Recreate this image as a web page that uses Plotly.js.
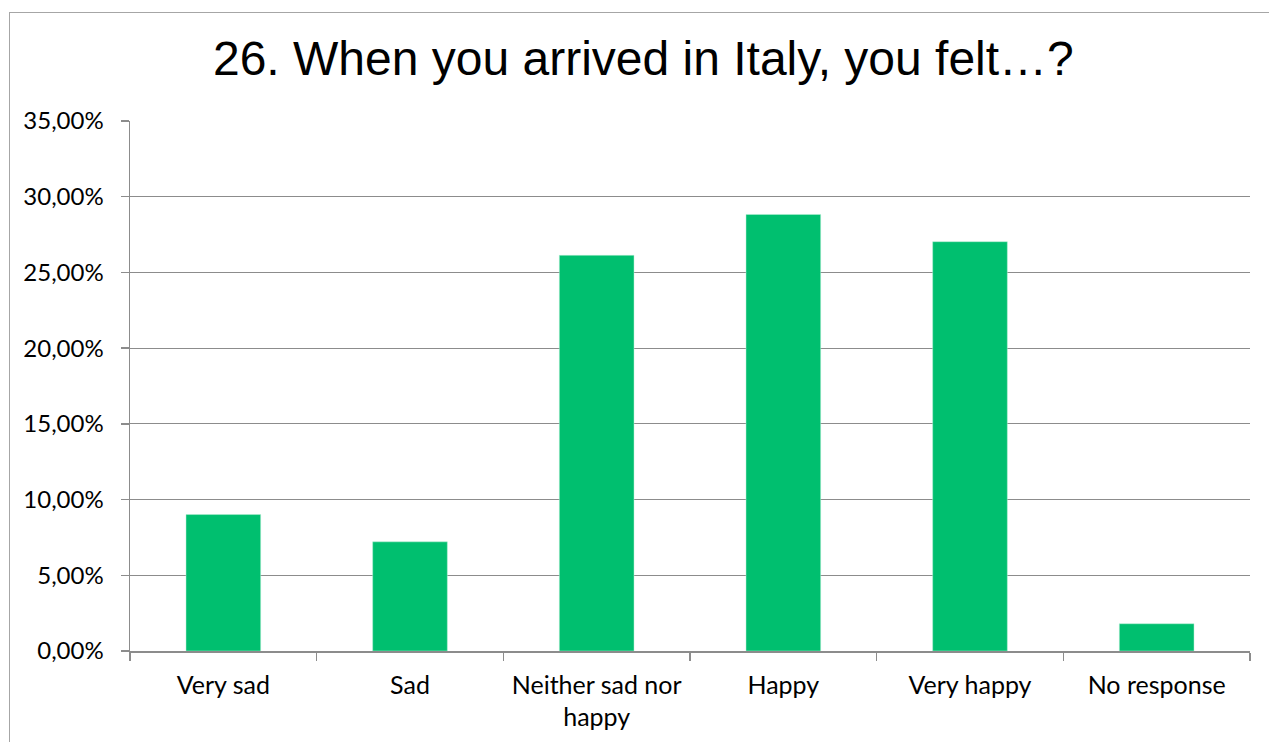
<!DOCTYPE html>
<html>
<head>
<meta charset="utf-8">
<script src="https://cdn.plot.ly/plotly-3.0.1.min.js"></script>
<style>
html,body{margin:0;padding:0;background:#fff;overflow:hidden;}
#chart{position:absolute;left:0;top:0;width:1269px;height:742px;}
#frame{position:absolute;left:9px;top:12px;width:1300px;height:800px;border:1.5px solid #a6a6a6;pointer-events:none;box-sizing:border-box;}
</style>
</head>
<body>
<div id="chart"></div>
<div id="frame"></div>
<script>
const categories = ["Very sad", "Sad", "Neither sad nor<br>happy", "Happy", "Very happy", "No response"];
const shares = [0.0901, 0.0721, 0.2613, 0.2883, 0.2703, 0.0180];
const yTicks = [0, 0.05, 0.10, 0.15, 0.20, 0.25, 0.30, 0.35];

const trace = {
  type: 'bar',
  x: categories,
  y: shares,
  marker: {color: '#00bf6f', line: {color: '#b8eed6', width: 0.5}},
  hoverinfo: 'x+y'
};

const layout = {
  width: 1269, height: 742,
  margin: {l: 130, r: 19, t: 121, b: 91},
  paper_bgcolor: '#ffffff', plot_bgcolor: '#ffffff',
  separators: ',.',
  bargap: 0.6,
  showlegend: false,
  title: {
    text: '26. When you arrived in Italy, you felt…?',
    font: {family: 'Liberation Sans, Arial, sans-serif', size: 48, color: '#000'},
    x: 0.507, xref: 'container', xanchor: 'center',
    y: 0.922, yref: 'container', yanchor: 'middle'
  },
  xaxis: {
    type: 'category',
    showgrid: false,
    showline: true, linecolor: '#8c8c8c', linewidth: 1.5,
    ticks: 'outside', tickson: 'boundaries', ticklen: 8, tickcolor: '#8c8c8c', tickwidth: 1.5,
    ticklabelstandoff: 11,
    tickfont: {family: 'Lato, sans-serif', size: 25, color: '#000'},
    zeroline: false, fixedrange: true
  },
  yaxis: {
    range: [0, 0.35],
    tickvals: yTicks,
    tickformat: '.2%',
    showgrid: true, gridcolor: '#8c8c8c', gridwidth: 1.2,
    showline: true, linecolor: '#8c8c8c', linewidth: 1.5,
    ticks: 'outside', ticklen: 8, tickcolor: '#8c8c8c', tickwidth: 1.5,
    ticklabelstandoff: 12,
    tickfont: {family: 'Lato, sans-serif', size: 24, color: '#000'},
    zeroline: false, fixedrange: true
  }
};

Plotly.newPlot('chart', [trace], layout, {displayModeBar: false, staticPlot: true});
</script>
</body>
</html>
